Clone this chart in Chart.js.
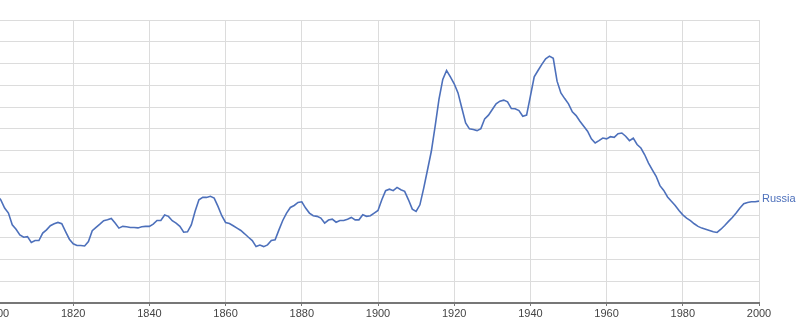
<!DOCTYPE html>
<html>
<head>
<meta charset="utf-8">
<script src="https://cdn.jsdelivr.net/npm/chart.js@4/dist/chart.umd.min.js"></script>
<style>
  html, body { margin: 0; padding: 0; background: #fff; overflow: hidden; }
  #wrap { position: absolute; left: -50px; top: 0; width: 850px; height: 326px; }
</style>
</head>
<body>
<div id="wrap"><canvas id="grafico"></canvas></div>
<script>
// anos 1800..2000 (eixo x)
var anoInicial = 1800
var anos = Array.from({ length: 201 }, (_, i) => anoInicial + i)

// valores (unidades de grade)
var russia = [
  4.95, 4.74, 4.36, 4.13, 3.59, 3.39, 3.13, 3.02, 3.05, 2.78,
  2.87, 2.87, 3.21, 3.36, 3.55, 3.64, 3.70, 3.64, 3.28, 2.93,
  2.72, 2.64, 2.64, 2.62, 2.82, 3.32, 3.47, 3.62, 3.78, 3.82,
  3.88, 3.67, 3.44, 3.52, 3.50, 3.47, 3.47, 3.45, 3.50, 3.52,
  3.52, 3.62, 3.79, 3.79, 4.04, 3.98, 3.78, 3.67, 3.52, 3.25,
  3.27, 3.59, 4.21, 4.74, 4.85, 4.85, 4.90, 4.82, 4.44, 4.01,
  3.70, 3.65, 3.55, 3.44, 3.33, 3.18, 3.02, 2.87, 2.59, 2.66,
  2.59, 2.67, 2.87, 2.90, 3.36, 3.79, 4.13, 4.39, 4.48, 4.62,
  4.65, 4.36, 4.13, 4.01, 3.98, 3.90, 3.67, 3.81, 3.85, 3.71,
  3.79, 3.79, 3.85, 3.93, 3.82, 3.82, 4.05, 3.98, 4.01, 4.13,
  4.25, 4.74, 5.16, 5.23, 5.16, 5.31, 5.20, 5.13, 4.74, 4.31,
  4.21, 4.51, 5.28, 6.12, 6.97, 8.12, 9.35, 10.27, 10.68, 10.39,
  10.07, 9.65, 8.96, 8.27, 8.00, 7.97, 7.92, 8.01, 8.46, 8.63,
  8.89, 9.15, 9.27, 9.32, 9.24, 8.93, 8.92, 8.84, 8.58, 8.63,
  9.50, 10.39, 10.68, 10.96, 11.22, 11.34, 11.24, 10.19, 9.65, 9.39,
  9.15, 8.78, 8.61, 8.35, 8.12, 7.89, 7.54, 7.35, 7.46, 7.58,
  7.54, 7.64, 7.61, 7.78, 7.81, 7.66, 7.46, 7.57, 7.28, 7.12,
  6.81, 6.43, 6.12, 5.82, 5.39, 5.17, 4.87, 4.67, 4.48, 4.25,
  4.05, 3.90, 3.78, 3.64, 3.52, 3.44, 3.39, 3.33, 3.27, 3.24,
  3.39, 3.56, 3.75, 3.93, 4.13, 4.36, 4.56, 4.62, 4.65, 4.65,
  4.68
]
var nomeSerie = 'Russia'
var corSerie = '#4d70bb'

let dados = {
  datasets: [{
    label: nomeSerie,
    data: anos.map((a, i) => ({ x: a, y: russia[i] })),
    borderColor: corSerie,
    borderWidth: 1.6,
    pointRadius: 0,
    tension: 0,
    fill: false
  }]
}

// escreve o nome da serie no fim da linha
const rotuloFinal = {
  id: 'rotuloFinal',
  afterDatasetsDraw(chart) {
    const ctx = chart.ctx
    const xs = chart.scales.x
    const ys = chart.scales.y
    ctx.save()
    ctx.font = '11px "Liberation Sans", Arial, sans-serif'
    ctx.fillStyle = corSerie
    ctx.textBaseline = 'middle'
    ctx.fillText(nomeSerie, xs.getPixelForValue(anos[anos.length - 1]) + 3,
      ys.getPixelForValue(russia[russia.length - 1]) - 2)
    ctx.restore()
  }
}

const config = {
  type: 'line',
  data: dados,
  options: {
    responsive: true,
    maintainAspectRatio: false,
    animation: false,
    layout: { padding: { left: 47, right: 41, top: 20, bottom: 0 } },
    plugins: { legend: { display: false }, tooltip: { enabled: false } },
    scales: {
      x: {
        type: 'linear',
        min: 1800,
        max: 2000,
        afterFit: (s) => { s.height = 23 },
        ticks: {
          stepSize: 20,
          color: '#444',
          padding: 1,
          maxRotation: 0,
          callback: (v) => String(v),
          font: { family: '"Liberation Sans", Arial, sans-serif', size: 11 }
        },
        grid: { color: '#dcdcdc', lineWidth: 1, tickLength: 3, tickColor: '#777' },
        border: { color: '#777', width: 2 }
      },
      y: {
        min: 0,
        max: 13,
        afterFit: (s) => { s.width = 0 },
        ticks: { display: false, stepSize: 1 },
        grid: { color: '#dcdcdc', lineWidth: 1, drawTicks: false },
        border: { display: false }
      }
    }
  },
  plugins: [rotuloFinal]
}

let grafico = new Chart(document.getElementById('grafico'), config)
</script>
</body>
</html>
